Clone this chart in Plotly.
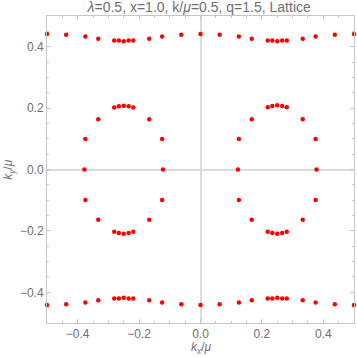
import plotly.graph_objects as go

# outer band (top and bottom rows)
band_x = [-0.5, -0.4375, -0.375, -0.333, -0.281, -0.266, -0.25, -0.234, -0.219, -0.167, -0.125, -0.0625, 0.0,
          0.0625, 0.125, 0.167, 0.219, 0.234, 0.25, 0.266, 0.281, 0.333, 0.375, 0.4375, 0.5]
top_y = [0.441, 0.439, 0.433, 0.426, 0.420, 0.420, 0.418, 0.420, 0.420, 0.426, 0.433, 0.439, 0.441,
         0.439, 0.433, 0.426, 0.420, 0.420, 0.418, 0.420, 0.420, 0.426, 0.433, 0.439, 0.441]
bottom_y = [-0.441, -0.439, -0.433, -0.426, -0.420, -0.420, -0.418, -0.420, -0.420, -0.426, -0.433, -0.439, -0.441,
            -0.439, -0.433, -0.426, -0.420, -0.420, -0.418, -0.420, -0.420, -0.426, -0.433, -0.439, -0.441]

# inner rings
left_ring_x = [-0.281, -0.266, -0.25, -0.234, -0.219, -0.333, -0.167, -0.375, -0.125, -0.378, -0.122,
               -0.375, -0.125, -0.333, -0.167, -0.281, -0.266, -0.25, -0.234, -0.219]
left_ring_y = [0.202, 0.206, 0.208, 0.206, 0.202, 0.164, 0.164, 0.099, 0.099, 0.0, 0.0,
               -0.099, -0.099, -0.164, -0.164, -0.203, -0.207, -0.209, -0.207, -0.203]
right_ring_x = [0.219, 0.234, 0.25, 0.266, 0.281, 0.167, 0.333, 0.125, 0.375, 0.122, 0.378,
                0.125, 0.375, 0.167, 0.333, 0.219, 0.234, 0.25, 0.266, 0.281]
right_ring_y = [0.203, 0.207, 0.209, 0.207, 0.203, 0.164, 0.164, 0.099, 0.099, 0.0, 0.0,
                -0.099, -0.099, -0.164, -0.164, -0.203, -0.207, -0.209, -0.207, -0.203]

xs = band_x + band_x + left_ring_x + right_ring_x
ys = top_y + bottom_y + left_ring_y + right_ring_y

fig = go.Figure()
fig.add_trace(go.Scatter(x=xs, y=ys, mode='markers', cliponaxis=False, hoverinfo='skip',
                         marker=dict(color='#ff0000', size=4.5, line=dict(width=0))))

gray = '#c6c6c6'
text_gray = '#707070'
font = 'Liberation Sans, Arial'
axis_style = dict(
    range=[-0.5, 0.5], dtick=0.2, tick0=0, tickformat='.1f', showgrid=False,
    automargin=False,
    zeroline=True, zerolinecolor='#dcdcdc', zerolinewidth=1.5,
    showline=True, linecolor=gray, linewidth=1, mirror='allticks',
    ticks='inside', ticklen=4, tickcolor=gray, tickwidth=1,
    minor=dict(dtick=0.05, tick0=0, ticks='inside', ticklen=2, tickcolor=gray, showgrid=False),
    tickfont=dict(family=font, size=12, color=text_gray),
)

fig.update_layout(
    width=357, height=357,
    margin=dict(l=47, r=3, t=16, b=34),
    paper_bgcolor='white', plot_bgcolor='white',
    showlegend=False,
    title=dict(text='<i>λ</i>=0.5, x=1.0, k/<i>μ</i>=0.5, q=1.5, Lattice',
               x=0.558, xanchor='center', y=0.995, yanchor='top',
               font=dict(family=font, size=14, color=text_gray)),
    xaxis=axis_style,
    yaxis=axis_style,
)

# axis labels
fig.add_annotation(text='<i>k</i><sub><i>x</i></sub>/<i>μ</i>', xref='paper', yref='paper',
                   x=0.502, y=-0.082, xanchor='center', yanchor='middle', showarrow=False,
                   font=dict(family=font, size=12, color=text_gray))
fig.add_annotation(text='<i>k</i><sub><i>y</i></sub>/<i>μ</i>', xref='paper', yref='paper',
                   x=-0.124, y=0.502, xanchor='center', yanchor='middle', textangle=-90, showarrow=False,
                   font=dict(family=font, size=12, color=text_gray))

# the default page keeps an 8px body margin; drop it so the chart sits at the window corner
fig.write_html("out.html", config={'displayModeBar': False},
               post_script="document.body.style.margin='0';")
